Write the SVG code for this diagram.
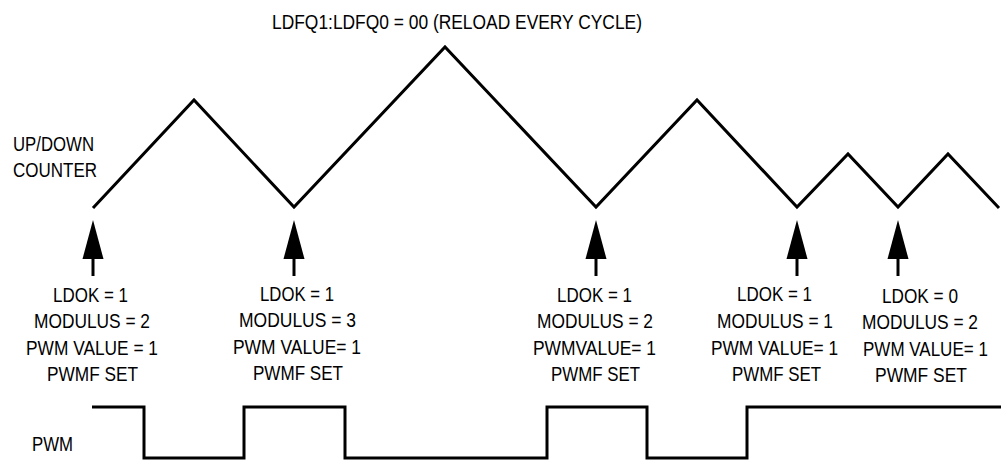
<svg xmlns="http://www.w3.org/2000/svg" width="1001" height="460" viewBox="0 0 1001 460">
<style>
text{font-family:"Liberation Sans",Arial,sans-serif;font-size:21px;fill:#000}
.w{fill:none;stroke:#000;stroke-width:3}
.sh{stroke:#000;stroke-width:3}
</style>
<defs>
<g id="arr"><line class="sh" x1="0" y1="255" x2="0" y2="276"/><polygon points="-10.5,259 0,220 10.5,259" fill="#000"/></g>
</defs>
<rect width="1001" height="460" fill="#fff"/>
<g id="title"><text x="272" y="29" textLength="370" lengthAdjust="spacingAndGlyphs">LDFQ1:LDFQ0 = 00 (RELOAD EVERY CYCLE)</text></g>
<g id="counter-label"><text x="13" y="151" textLength="81" lengthAdjust="spacingAndGlyphs">UP/DOWN</text><text x="13" y="177" textLength="84" lengthAdjust="spacingAndGlyphs">COUNTER</text></g>
<g id="pwm-label"><text x="32" y="451" textLength="41" lengthAdjust="spacingAndGlyphs">PWM</text></g>
<g id="counter"><polyline class="w" points="93,208 194,100 294,207 445,47 596,207 697,100 797,207 848,154 898,207 948,154 999,208"/></g>
<g id="pwm"><polyline class="w" points="92,407 144,407 144,458 244,458 244,407 345,407 345,458 547,458 547,407 647,407 647,458 747,458 747,407 1001,407"/></g>
<g id="connectors">
<use href="#arr" x="93"/>
<use href="#arr" x="294"/>
<use href="#arr" x="596"/>
<use href="#arr" x="797"/>
<use href="#arr" x="898"/>
</g>
<g id="reload1">
<text x="53" y="302" textLength="75" lengthAdjust="spacingAndGlyphs">LDOK = 1</text>
<text x="34" y="328" textLength="116" lengthAdjust="spacingAndGlyphs">MODULUS = 2</text>
<text x="26" y="355" textLength="132" lengthAdjust="spacingAndGlyphs">PWM VALUE = 1</text>
<text x="47" y="381" textLength="91" lengthAdjust="spacingAndGlyphs">PWMF SET</text>
</g>
<g id="reload2">
<text x="260" y="301" textLength="74" lengthAdjust="spacingAndGlyphs">LDOK = 1</text>
<text x="239" y="327" textLength="117" lengthAdjust="spacingAndGlyphs">MODULUS = 3</text>
<text x="233" y="354" textLength="128" lengthAdjust="spacingAndGlyphs">PWM VALUE= 1</text>
<text x="253" y="380" textLength="90" lengthAdjust="spacingAndGlyphs">PWMF SET</text>
</g>
<g id="reload3">
<text x="557" y="302" textLength="75" lengthAdjust="spacingAndGlyphs">LDOK = 1</text>
<text x="537" y="328" textLength="116" lengthAdjust="spacingAndGlyphs">MODULUS = 2</text>
<text x="533" y="355" textLength="123" lengthAdjust="spacingAndGlyphs">PWMVALUE= 1</text>
<text x="551" y="381" textLength="89" lengthAdjust="spacingAndGlyphs">PWMF SET</text>
</g>
<g id="reload4">
<text x="737" y="301" textLength="75" lengthAdjust="spacingAndGlyphs">LDOK = 1</text>
<text x="717" y="328" textLength="116" lengthAdjust="spacingAndGlyphs">MODULUS = 1</text>
<text x="711" y="355" textLength="127" lengthAdjust="spacingAndGlyphs">PWM VALUE= 1</text>
<text x="732" y="381" textLength="89" lengthAdjust="spacingAndGlyphs">PWMF SET</text>
</g>
<g id="reload5">
<text x="882" y="303" textLength="76" lengthAdjust="spacingAndGlyphs">LDOK = 0</text>
<text x="862" y="329" textLength="116" lengthAdjust="spacingAndGlyphs">MODULUS = 2</text>
<text transform="translate(863,356) scale(0.81,1)" x="0" y="0">PWM VALUE= 1</text>
<text x="875" y="382" textLength="92" lengthAdjust="spacingAndGlyphs">PWMF SET</text>
</g>
</svg>
